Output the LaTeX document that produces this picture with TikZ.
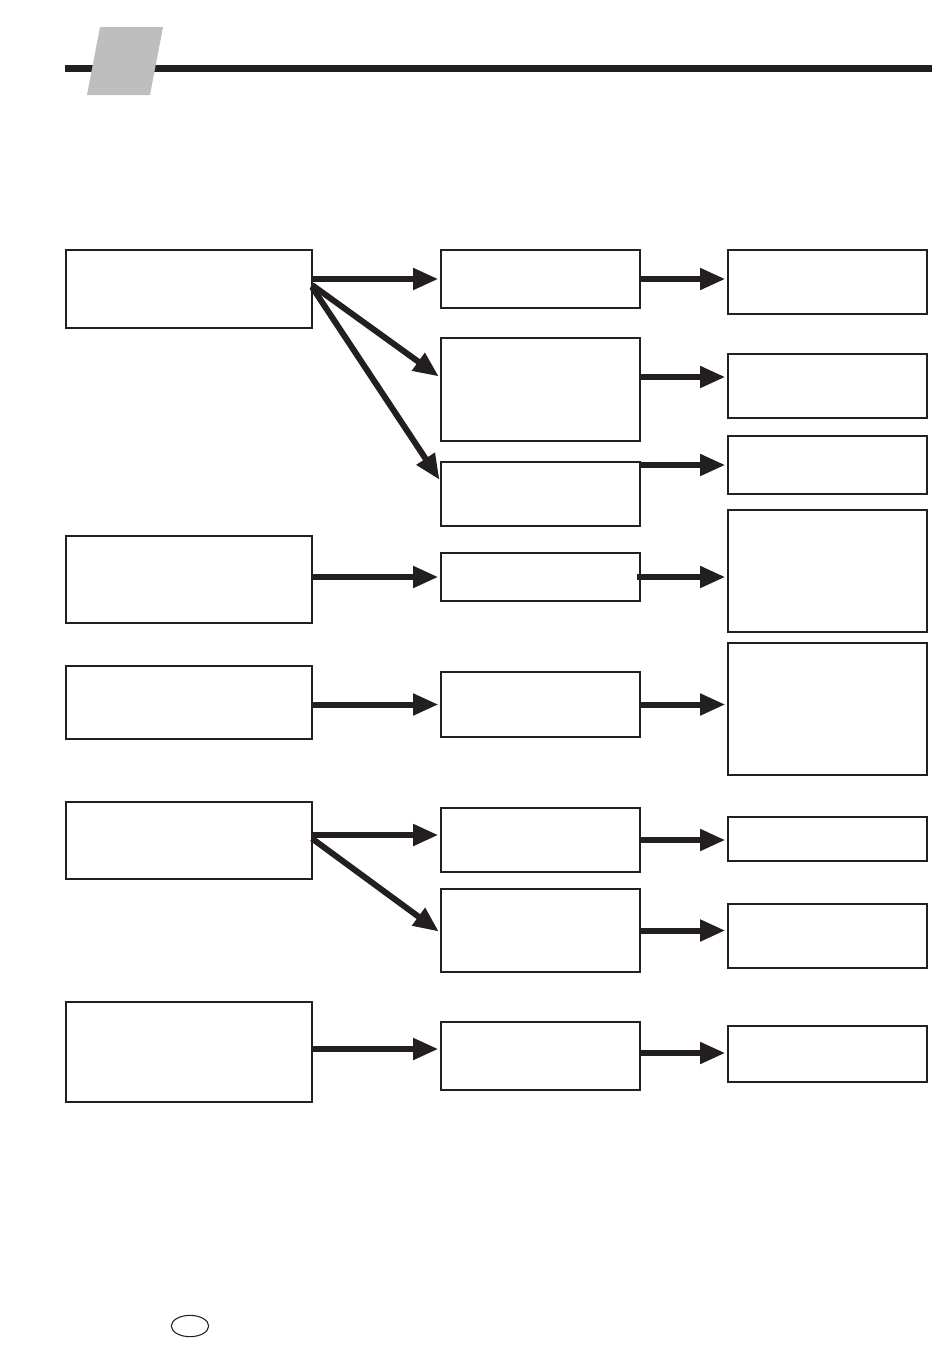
\documentclass[tikz,border=0pt]{standalone}
\usepackage{xcolor}
\usepackage{tikz}
\usetikzlibrary{calc}
\usetikzlibrary{arrows.meta}
\usetikzlibrary{positioning}
\usetikzlibrary{shapes.geometric}

\definecolor{ink}{RGB}{35,31,32}
\definecolor{tab}{RGB}{190,190,190}

\tikzset{
 box/.style={rectangle, draw=ink, line width=1pt, anchor=north west, inner sep=0pt, outer sep=0pt},
 wbox/.style={box, minimum width=184.5pt},
 nbox/.style={box, minimum width=149.25pt},
 arr/.style={draw=ink, line width=4.5pt, -{Triangle[length=19pt,width=15.5pt]}, shorten >=2pt}
}

\begin{document}
\begin{tikzpicture}[x=0.75pt, y=-0.75pt]
 \useasboundingbox (0,0) rectangle (950,1353);
 % header bar
 \draw [ink, line width=5.25pt] (65,68) -- (932,68);
 \fill [tab] (100,27) -- (163,27) -- (150,95) -- (87,95) -- cycle;
 % left column
 \node [wbox, minimum height=58.5pt] (A1) at (66,250) {};
 \node [wbox, minimum height=65.25pt] (A2) at (66,536) {};
 \node [wbox, minimum height=54.75pt] (A3) at (66,666) {};
 \node [wbox, minimum height=57.75pt] (A4) at (66,802) {};
 \node [wbox, minimum height=75pt] (A5) at (66,1002) {};
 % middle column
 \node [nbox, minimum height=43.5pt] (B1) at (441,250) {};
 \node [nbox, minimum height=77.25pt] (B2) at (441,338) {};
 \node [nbox, minimum height=48pt] (B3) at (441,462) {};
 \node [nbox, minimum height=36pt] (B4) at (441,553) {};
 \node [nbox, minimum height=48.75pt] (B5) at (441,672) {};
 \node [nbox, minimum height=48pt] (B6) at (441,808) {};
 \node [nbox, minimum height=62.25pt] (B7) at (441,889) {};
 \node [nbox, minimum height=51pt] (B8) at (441,1022) {};
 % right column
 \node [nbox, minimum height=48pt] (C1) at (728,250) {};
 \node [nbox, minimum height=48pt] (C2) at (728,354) {};
 \node [nbox, minimum height=43.5pt] (C3) at (728,436) {};
 \node [nbox, minimum height=91.5pt] (C4) at (728,510) {};
 \node [nbox, minimum height=99pt] (C5) at (728,643) {};
 \node [nbox, minimum height=33pt] (C6) at (728,817) {};
 \node [nbox, minimum height=48pt] (C7) at (728,904) {};
 \node [nbox, minimum height=42pt] (C8) at (728,1026) {};
 % arrows left to middle
 \draw [arr] (A1.east |- B1.west) -- (B1.west);
 \draw [arr] ([yshift=3pt]A1.east) -- ([yshift=8.6pt]B2.west);
 \draw [arr] ([yshift=1.5pt]A1.east) -- ([yshift=9pt]B3.west);
 \draw [arr] (A2.east |- B4.west) -- (B4.west);
 \draw [arr] (A3.east |- B5.west) -- (B5.west);
 \draw [arr] ([yshift=3.75pt]B6.west -| A4.east) -- ([yshift=3.75pt]B6.west);
 \draw [arr] ([yshift=1.5pt]A4.east) -- ([yshift=-2pt]B7.west);
 \draw [arr] ([yshift=5.25pt]B8.west -| A5.east) -- ([yshift=5.25pt]B8.west);
 % arrows middle to right
 \draw [arr] (B1.east) -- (B1.east -| C1.west);
 \draw [arr] ([yshift=6.75pt]C2.west -| B2.east) -- ([yshift=6.75pt]C2.west);
 \draw [arr] (B3.east |- C3.west) -- (C3.west);
 \draw [arr] ([xshift=-2pt]B4.east) -- (B4.east -| C4.west);
 \draw [arr] (B5.east) -- (B5.east -| C5.west);
 \draw [arr] (B6.east) -- (B6.east -| C6.west);
 \draw [arr] (B7.east) -- (B7.east -| C7.west);
 \draw [arr] ([yshift=0.75pt]C8.west -| B8.east) -- ([yshift=0.75pt]C8.west);
 % page mark
 \node [ellipse, draw=ink, line width=0.8pt, minimum width=28pt, minimum height=16pt, inner sep=0pt] (mark) at (190,1326) {};
\end{tikzpicture}
\end{document}
